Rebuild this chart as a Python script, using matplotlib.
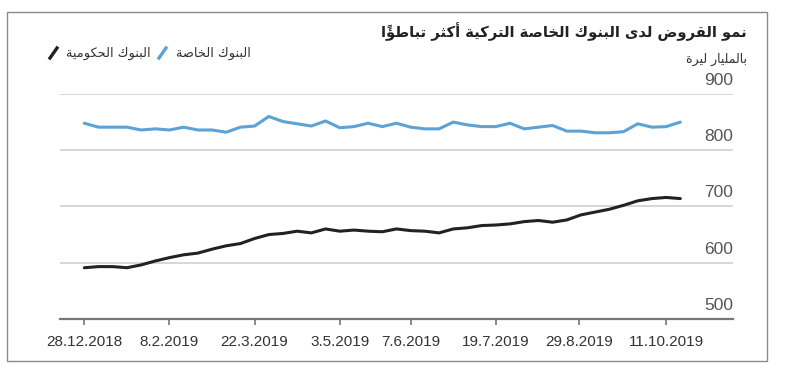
import datetime as dt
import matplotlib
matplotlib.use('Agg')
import matplotlib.pyplot as plt
import matplotlib.transforms as mtrans
from matplotlib.lines import Line2D
from matplotlib.patches import Rectangle

# weekly data, 28.12.2018 .. 18.10.2019 (billion lira)
start = dt.date(2018, 12, 28)
private_banks = [848, 841, 841, 841, 836, 838, 836, 841, 836, 836, 832, 841, 843, 860, 851,
                 847, 843, 852, 840, 842, 848, 842, 848, 841, 838, 838, 850, 845, 842, 842,
                 848, 838, 841, 844, 834, 834, 831, 831, 833, 847, 841, 842, 850]
state_banks = [591, 593, 593, 591, 596, 603, 609, 614, 617, 624, 630, 634, 643, 650, 652,
               656, 653, 660, 656, 658, 656, 655, 660, 657, 656, 653, 660, 662, 666, 667,
               669, 673, 675, 672, 676, 685, 690, 695, 702, 710, 714, 716, 714]
dates = [start + dt.timedelta(weeks=i) for i in range(len(state_banks))]

tick_dates = [dt.date(2018, 12, 28), dt.date(2019, 2, 8), dt.date(2019, 3, 22), dt.date(2019, 5, 3),
              dt.date(2019, 6, 7), dt.date(2019, 7, 19), dt.date(2019, 8, 29), dt.date(2019, 10, 11)]
tick_labels = ['28.12.2018', '8.2.2019', '22.3.2019', '3.5.2019', '7.6.2019',
               '19.7.2019', '29.8.2019', '11.10.2019']
y_ticks = [500, 600, 700, 800, 900]

title = 'نمو القروض لدى البنوك الخاصة التركية أكثر تباطؤاً'
subtitle = 'بالمليار ليرة'
name_state = 'البنوك الحكومية'
name_private = 'البنوك الخاصة'

# --- tiny arabic shaper (matplotlib has no bidi / shaping) ---
FORMS = {'ء': (0xFE80, 1), 'آ': (0xFE81, 2), 'أ': (0xFE83, 2), 'ؤ': (0xFE85, 2), 'إ': (0xFE87, 2),
         'ئ': (0xFE89, 4), 'ا': (0xFE8D, 2), 'ب': (0xFE8F, 4), 'ة': (0xFE93, 2), 'ت': (0xFE95, 4),
         'ث': (0xFE99, 4), 'ج': (0xFE9D, 4), 'ح': (0xFEA1, 4), 'خ': (0xFEA5, 4), 'د': (0xFEA9, 2),
         'ذ': (0xFEAB, 2), 'ر': (0xFEAD, 2), 'ز': (0xFEAF, 2), 'س': (0xFEB1, 4), 'ش': (0xFEB5, 4),
         'ص': (0xFEB9, 4), 'ض': (0xFEBD, 4), 'ط': (0xFEC1, 4), 'ظ': (0xFEC5, 4), 'ع': (0xFEC9, 4),
         'غ': (0xFECD, 4), 'ف': (0xFED1, 4), 'ق': (0xFED5, 4), 'ك': (0xFED9, 4), 'ل': (0xFEDD, 4),
         'م': (0xFEE1, 4), 'ن': (0xFEE5, 4), 'ه': (0xFEE9, 4), 'و': (0xFEED, 2), 'ى': (0xFEEF, 2),
         'ي': (0xFEF1, 4)}


def is_mark(c):
    return '\u064B' <= c <= '\u065F'


def shape(s):
    n = len(s)
    res = []
    for i, c in enumerate(s):
        if c not in FORMS:
            res.append(c)
            continue
        j = i - 1
        while j >= 0 and is_mark(s[j]):
            j -= 1
        k = i + 1
        while k < n and is_mark(s[k]):
            k += 1
        base, nf = FORMS[c]
        prev_j = j >= 0 and s[j] in FORMS and FORMS[s[j]][1] == 4
        next_j = nf == 4 and k < n and s[k] in FORMS and FORMS[s[k]][1] > 1
        if nf == 1:
            res.append(chr(base))
        elif prev_j and next_j:
            res.append(chr(base + 3))
        elif prev_j:
            res.append(chr(base + 1))
        elif next_j:
            res.append(chr(base + 2))
        else:
            res.append(chr(base))
    # visual order: reverse clusters (base + marks)
    clusters = []
    for c in res:
        if is_mark(c) and clusters:
            clusters[-1] += c
        else:
            clusters.append(c)
    return ''.join(reversed(clusters))


W, H = 785, 373
fig = plt.figure(figsize=(W / 100, H / 100), dpi=100)
ax = fig.add_axes([60 / W, 1 - 318.9 / H, (733 - 60) / W, (318.9 - 94) / H])

blue = '#5ca2d4'
dark = '#222222'
ax.plot(dates, private_banks, color=blue, lw=2.2, solid_capstyle='round')
ax.plot(dates, state_banks, color=dark, lw=2.2, solid_capstyle='round')

ax.set_ylim(500, 900)
ax.set_xlim(dt.date(2018, 12, 16), dt.date(2019, 11, 13))
for v in y_ticks[1:]:
    ax.axhline(v, color='#d6d6d6', lw=1.4, zorder=0)
ax.set_yticks([])
for s in ['top', 'right', 'left']:
    ax.spines[s].set_visible(False)
ax.spines['bottom'].set_color('#777777')
ax.spines['bottom'].set_linewidth(1.6)

ax.set_xticks(tick_dates)
ax.set_xticklabels(tick_labels, fontfamily='Liberation Sans', fontsize=11, color='#333333')
ax.tick_params(axis='x', length=4.5, width=1.2, color='#777777', pad=7)

ytr = mtrans.offset_copy(ax.get_yaxis_transform(), fig=fig, x=0, y=9, units='dots')
for v in y_ticks:
    ax.text(1.0, v, str(v), transform=ytr, ha='right', va='baseline',
            fontfamily='Liberation Sans', fontsize=12.5, color='#555555', clip_on=False)

# titles
fig.text(747 / W, 1 - 32 / H, shape(title), ha='right', va='center', fontsize=10.6,
         fontweight='bold', color='#222222', family='DejaVu Sans')
fig.text(747 / W, 1 - 59 / H, shape(subtitle), ha='right', va='center', fontsize=9,
         color='#333333', family='DejaVu Sans')

# legend
fig.add_artist(Line2D([50 / W, 57 / W], [1 - 58 / H, 1 - 48 / H], color=dark, lw=2.4))
fig.text(151 / W, 1 - 53 / H, shape(name_state), ha='right', va='center', fontsize=9.4,
         color='#333333', family='DejaVu Sans')
fig.add_artist(Line2D([159 / W, 166 / W], [1 - 58 / H, 1 - 48 / H], color=blue, lw=2.4))
fig.text(176 / W, 1 - 53 / H, shape(name_private), ha='left', va='center', fontsize=9.4,
         color='#333333', family='DejaVu Sans')

# frame around the graphic
fig.add_artist(Rectangle((7 / W, 1 - 361 / H), 760 / W, 349 / H, transform=fig.transFigure,
                         fill=False, ec='#8a8a8a', lw=1.0))

fig.savefig('out.png', dpi=100)
